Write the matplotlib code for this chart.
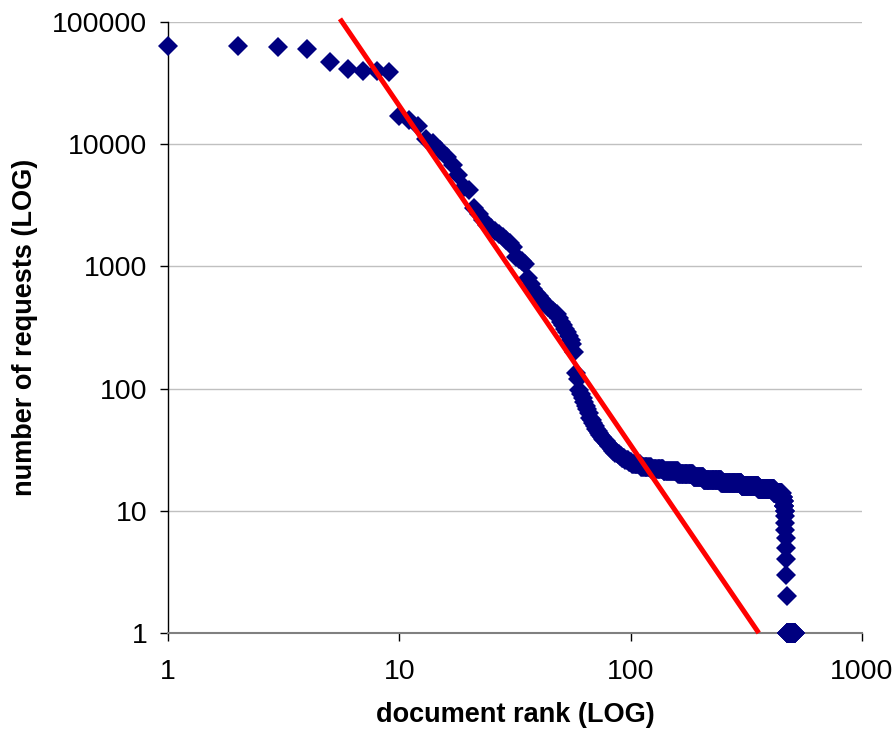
import numpy as np
import matplotlib
matplotlib.use("Agg")
import matplotlib.pyplot as plt

plt.rcParams['font.family'] = ['Liberation Sans', 'DejaVu Sans']

# requests per document, ranks 1..100
head_requests = [
    64000, 63500, 63000, 60000, 47000, 41000, 39800, 39500, 39000, 17000,
    15800, 14000, 11000, 10200, 9000, 7800, 6800, 5600, 4500, 4200,
    3000, 2700, 2400, 2200, 2050, 1950, 1850, 1750, 1650, 1550,
    1450, 1200, 1150, 1100, 1050, 800, 720, 660, 610, 570,
    540, 510, 490, 470, 450, 430, 420, 410, 380, 350,
    330, 310, 290, 270, 250, 230, 200, 135, 120, 98,
    90, 84, 78, 72, 68, 63, 58, 55, 52, 49,
    47, 45, 43, 42, 40, 39, 38, 37, 36, 35,
    34, 33, 32, 31, 31, 30, 30, 29, 29, 28,
    28, 27, 27, 27, 26, 26, 26, 25, 25, 25,
]
# tail (ranks 101..): request value and number of documents with that value
tail_values = [24, 23, 22, 21, 20, 19, 18, 17, 16, 15, 14, 13, 12, 11, 10, 9, 8, 7, 6, 5, 4, 3, 2, 1]
tail_counts = [10, 12, 16, 22, 26, 20, 40, 55, 55, 60, 33, 6, 4, 3, 2, 1, 1, 1, 1, 1, 1, 1, 1, 42]

# fitted power-law line (end points)
fit_rank = [5.54, 358]
fit_requests = [106400, 1]

requests = np.concatenate([head_requests, np.repeat(tail_values, tail_counts)])
ranks = np.arange(1, len(requests) + 1)

fig = plt.figure(figsize=(8.96, 7.38), dpi=100)
ax = fig.add_axes([0.1875, 0.1423, 0.962 - 0.1875, 0.970 - 0.1423])

ax.plot(ranks, requests, linestyle='none', marker='D', markersize=10,
        color='#000080', markeredgewidth=0, zorder=3, clip_on=False)
ax.plot(fit_rank, fit_requests, color='#ff0000', linewidth=3.6, zorder=4,
        clip_on=False, solid_capstyle='butt')

ax.set_xscale('log')
ax.set_yscale('log')
ax.set_xlim(1, 1000)
ax.set_ylim(1, 100000)

xt = [1, 10, 100, 1000]
yt = [1, 10, 100, 1000, 10000, 100000]
ax.set_xticks(xt)
ax.set_xticklabels([str(v) for v in xt])
ax.set_yticks(yt)
ax.set_yticklabels([str(v) for v in yt])
ax.minorticks_off()
ax.tick_params(axis='both', which='major', labelsize=20.5, length=6, width=1,
               direction='out', colors='black')
ax.tick_params(axis='x', pad=13)
ax.tick_params(axis='y', pad=9)

ax.yaxis.grid(True, color='#c0c0c0', linewidth=1)
ax.xaxis.grid(False)
ax.set_axisbelow(True)
for s in ['top', 'right']:
    ax.spines[s].set_visible(False)
ax.spines['left'].set_color('black')
ax.spines['bottom'].set_color('#808080')
ax.spines['left'].set_linewidth(1)
ax.spines['bottom'].set_linewidth(1.5)

ax.set_xlabel('document rank (LOG)', fontsize=19.5, fontweight='bold', labelpad=12)
ax.set_ylabel('number of requests (LOG)', fontsize=19.5, fontweight='bold', labelpad=10)

fig.savefig('out.png', dpi=100, facecolor='white')
